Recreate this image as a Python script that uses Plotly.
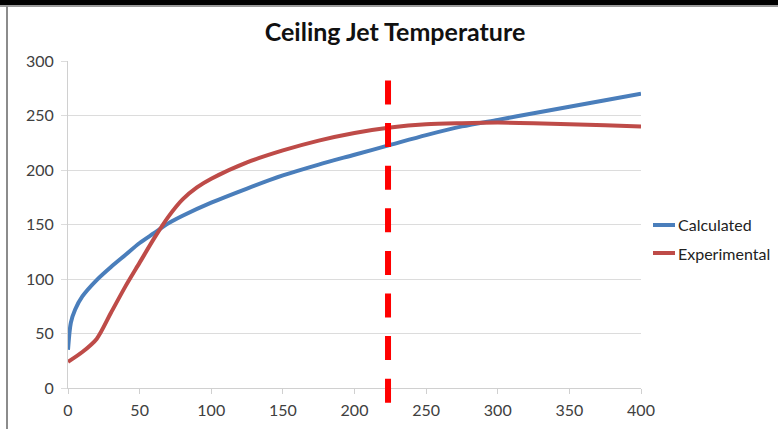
import plotly.graph_objects as go

# ---- data ----
calc_x = [0, 2, 5, 10, 20, 30, 40, 50, 60, 70, 80, 100, 125, 150, 175, 200, 225, 250, 275, 300, 325, 350, 375, 400]
calc_y = [35, 60, 72, 84, 99, 111, 122, 133, 142, 151, 158, 170, 183, 195, 205, 214, 223, 232, 240, 246, 252, 258, 264, 270]

exp_x = [0, 10, 20, 30, 40, 50, 60, 70, 80, 90, 100, 125, 150, 175, 200, 225, 250, 275, 300, 325, 350, 375, 400]
exp_y = [24, 33, 45, 69, 93, 115, 137, 157, 173, 184, 192, 207, 218, 227, 234, 239, 242, 243, 243.5, 243, 242, 241, 240]

series_names = ["Calculated", "Experimental"]
marker_x = 223.4
x_ticks = [0, 50, 100, 150, 200, 250, 300, 350, 400]
y_ticks = [0, 50, 100, 150, 200, 250, 300]

BLUE = "#4a7ebb"
RED = "#be4b48"
FONT = "Lato, 'Open Sans', sans-serif"

# plot area geometry (pixels) for paper coordinate conversion
W, H = 778, 429
L, R, T, B = 68, 641, 61, 388
pw, ph = R - L, B - T
def px(x):
    return (x - L) / pw
def py(y):
    return (B - y) / ph

fig = go.Figure()
fig.add_trace(go.Scatter(x=calc_x, y=calc_y, name=series_names[0], mode="lines",
                         line=dict(color=BLUE, width=4, shape="spline", smoothing=0.8),
                         showlegend=False))
fig.add_trace(go.Scatter(x=exp_x, y=exp_y, name=series_names[1], mode="lines",
                         line=dict(color=RED, width=4, shape="spline", smoothing=0.8),
                         showlegend=False))

shapes = [
    # dashed marker line
    dict(type="line", xref="x", yref="paper", x0=marker_x, x1=marker_x,
         y0=py(80.5), y1=py(403), line=dict(color="#ff0000", width=6, dash="24px,18.6px"), layer="above"),
    # top black bar
    dict(type="rect", xref="paper", yref="paper", x0=px(-5), x1=px(W + 5), y0=py(5), y1=py(-5),
         fillcolor="black", line=dict(width=0), layer="above"),
    dict(type="line", xref="paper", yref="paper", x0=px(0), x1=px(W), y0=py(6), y1=py(6),
         line=dict(color="#9a9a9a", width=2), layer="above"),
    # left gray border line
    dict(type="line", xref="paper", yref="paper", x0=px(7), x1=px(7), y0=py(6), y1=py(W),
         line=dict(color="#8c8c8c", width=2), layer="above"),
]

# manual legend (short line swatches like the original)
annotations = []
for name, col, ly in [(series_names[0], BLUE, 225), (series_names[1], RED, 253)]:
    shapes.append(dict(type="line", xref="paper", yref="paper", x0=px(653), x1=px(675),
                       y0=py(ly), y1=py(ly), line=dict(color=col, width=4)))
    annotations.append(dict(xref="paper", yref="paper", x=px(676), y=py(ly), text=name,
                            showarrow=False, xanchor="left", yanchor="middle",
                            font=dict(family=FONT, size=16, color="#222222")))

fig.update_layout(
    width=W, height=H,
    margin=dict(l=L, r=W - R, t=T, b=H - B, autoexpand=False),
    paper_bgcolor="white", plot_bgcolor="white",
    font=dict(family=FONT, size=16, color="#404040"),
    title=dict(text="<b>Ceiling Jet Temperature</b>", x=395 / W, xanchor="center",
               y=1 - 32 / H, yanchor="middle", font=dict(family=FONT, size=25, color="#111111")),
    xaxis=dict(range=[0, 400], tickvals=x_ticks, showgrid=False, zeroline=False,
               showline=True, linecolor="#d0d0d0", linewidth=1,
               ticks="outside", ticklen=5, tickcolor="#d0d0d0", ticklabelstandoff=3,
               tickfont=dict(size=16, color="#404040")),
    yaxis=dict(range=[0, 300], tickvals=y_ticks, showgrid=True, gridcolor="#dcdcdc", gridwidth=1,
               zeroline=False, showline=True, linecolor="#d0d0d0", linewidth=1,
               ticks="outside", ticklen=6, tickcolor="#dcdcdc", ticklabelstandoff=4,
               tickfont=dict(size=16, color="#404040")),
    showlegend=False,
    shapes=shapes,
    annotations=annotations,
)

fig.write_html("out.html")
